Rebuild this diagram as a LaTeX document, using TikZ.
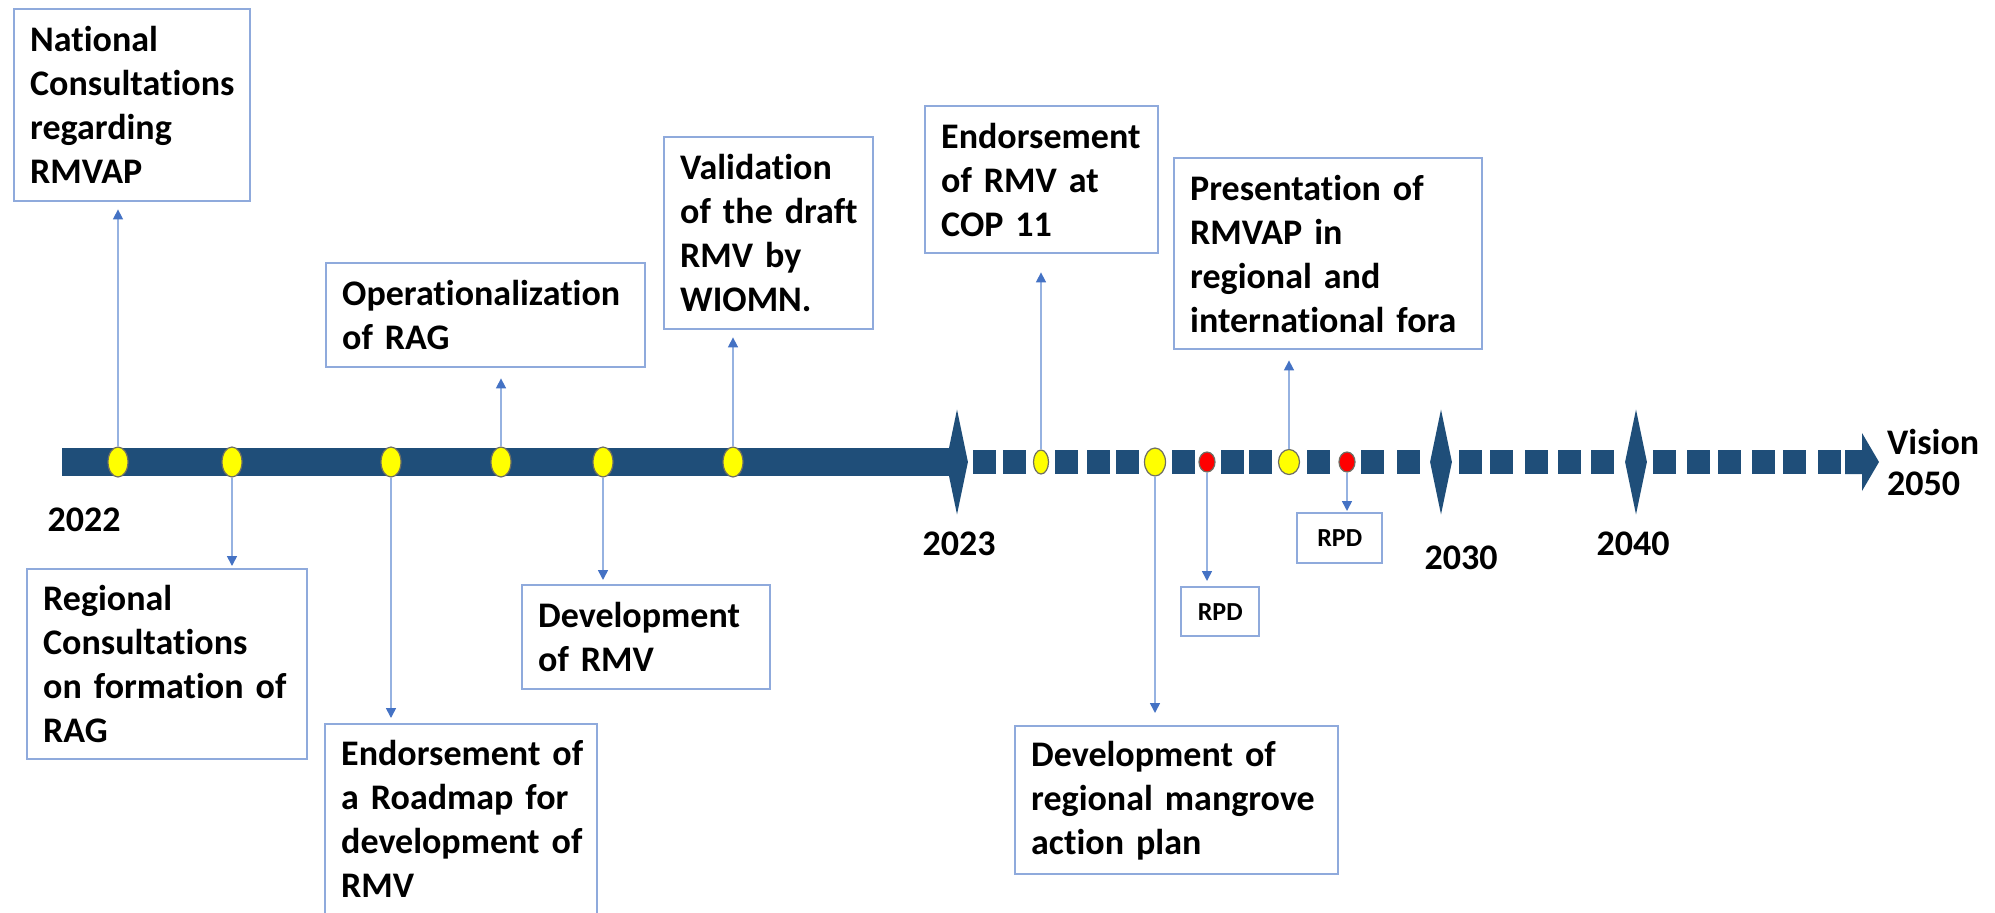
\documentclass[tikz,border=0pt]{standalone}
\usepackage{fontspec}
\setmainfont{Carlito}[Ligatures=NoCommon]
\definecolor{barblue}{RGB}{31,78,121}
\definecolor{boxline}{RGB}{143,170,220}
\definecolor{linkline}{RGB}{150,178,225}
\definecolor{linkhead}{RGB}{68,114,196}
\definecolor{markyellow}{RGB}{255,255,0}
\definecolor{markred}{RGB}{255,0,0}
\definecolor{markedge}{RGB}{110,110,100}
\usetikzlibrary{shapes.geometric,arrows.meta,positioning}

\begin{document}
\begin{tikzpicture}[x=1pt,y=-1pt,
    box/.style={rectangle, draw=boxline, line width=2.4pt, fill=white, anchor=north west,
        inner xsep=16pt, inner ysep=0pt, align=left, font=\fontsize{36}{44}\selectfont\bfseries},
    smallbox/.style={box, inner xsep=0pt, align=center, font=\fontsize{26}{32}\selectfont\bfseries},
    year/.style={font=\fontsize{36}{41}\selectfont\bfseries, inner sep=0pt},
    dot/.style={ellipse, draw=markedge, line width=1.2pt, fill=markyellow, inner sep=0pt,
        minimum width=20pt, minimum height=30pt},
    reddot/.style={dot, fill=markred, minimum width=16pt, minimum height=20pt},
    milestone/.style={diamond, fill=barblue, inner sep=0pt, minimum width=22pt, minimum height=105pt},
    link/.style={draw=linkline, line width=1.6pt, -{Triangle[width=10pt,length=10pt,color=linkhead]}}]
    \useasboundingbox (0,0) rectangle (1995,913);

    % Timeline bar
    \fill[barblue] (62,448) rectangle (957,476);
    \foreach \x in {973,1003,1055,1087,1116,1172,1221,1249,1307,1361,1397,
                    1459,1490,1525,1558,1591,1653,1687,1718,1752,1783,1818}
        \fill[barblue] (\x,450) rectangle ++(23,24);
    \fill[barblue] (1845,450) -- (1862,450) -- (1862,433) -- (1879,462)
        -- (1862,491) -- (1862,474) -- (1845,474) -- cycle;
    \node[milestone] (d2023) at (957,462) {};
    \node[milestone] (d2030) at (1441,462) {};
    \node[milestone] (d2040) at (1636,462) {};

    % Years
    \node[year] (y2022) at (84,520) {2022};
    \node[year] (y2023) at (959,544) {2023};
    \node[year] (y2030) at (1461,558) {2030};
    \node[year] (y2040) at (1633,544) {2040};
    \node[year, anchor=west, align=left] (vision) at (1887,462) {Vision\\2050};

    % Milestones 2022
    \node[dot] (m1) at (118,462) {};
    \node[dot] (m2) at (232,462) {};
    \node[dot] (m3) at (391,462) {};
    \node[dot] (m4) at (501,462) {};
    \node[dot] (m5) at (603,462) {};
    \node[dot] (m6) at (733,462) {};

    % Milestones after 2023
    \node[dot, minimum width=15pt, minimum height=24pt] (n1) at (1041,462) {};
    \node[dot, minimum width=21pt, minimum height=28pt] (n2) at (1155,462) {};
    \node[reddot] (r1) at (1207,462) {};
    \node[dot, minimum width=21pt, minimum height=25pt] (n3) at (1289,462) {};
    \node[reddot] (r2) at (1347,462) {};

    % Activities
    \node[box, text width=204pt, minimum height=192pt] (nat) at (13,8)
        {National\\Consultations\\regarding\\RMVAP};
    \node[box, text width=248pt, minimum height=190pt] (reg) at (26,568)
        {Regional\\Consultations\\on~formation~of\\RAG};
    \node[box, text width=240pt, minimum height=190pt] (road) at (324,723)
        {Endorsement~of\\a~Roadmap~for\\development~of\\RMV};
    \node[box, text width=287pt, minimum height=104pt] (oper) at (325,262)
        {Operationalization\\of~RAG};
    \node[box, text width=216pt, minimum height=104pt] (devrmv) at (521,584)
        {Development\\of~RMV};
    \node[box, text width=177pt, minimum height=192pt] (valid) at (663,136)
        {Validation\\of~the~draft\\RMV~by\\WIOMN.};
    \node[box, text width=201pt, minimum height=147pt] (cop) at (924,105)
        {Endorsement\\of~RMV~at\\COP~11};
    \node[box, text width=276pt, minimum height=191pt] (pres) at (1173,157)
        {Presentation~of\\RMVAP~in\\regional~and\\international~fora};
    \node[box, text width=291pt, minimum height=148pt] (mang) at (1014,725)
        {Development~of\\regional~mangrove\\action~plan};
    \node[smallbox, minimum width=78pt, minimum height=49pt] (rpda) at (1180,586) {RPD};
    \node[smallbox, minimum width=85pt, minimum height=50pt] (rpdb) at (1296,512) {RPD};

    % Links
    \draw[link, shorten >=7pt] (m1) -- (m1 |- nat.south);
    \draw[link, shorten >=2pt] (m2) -- (m2 |- reg.north);
    \draw[link, shorten >=5pt] (m3) -- (m3 |- road.north);
    \draw[link, shorten >=10pt] (m4) -- (m4 |- oper.south);
    \draw[link, shorten >=4pt] (m5) -- (m5 |- devrmv.north);
    \draw[link, shorten >=7pt] (m6) -- (m6 |- valid.south);
    \draw[link, shorten >=18pt] (n1) -- (n1 |- cop.south);
    \draw[link, shorten >=12pt] (n2) -- (n2 |- mang.north);
    \draw[link, shorten >=5pt] (r1) -- (r1 |- rpda.north);
    \draw[link, shorten >=10pt] (n3) -- (n3 |- pres.south);
    \draw[link, shorten >=1pt] (r2) -- (r2 |- rpdb.north);
\end{tikzpicture}
\end{document}
